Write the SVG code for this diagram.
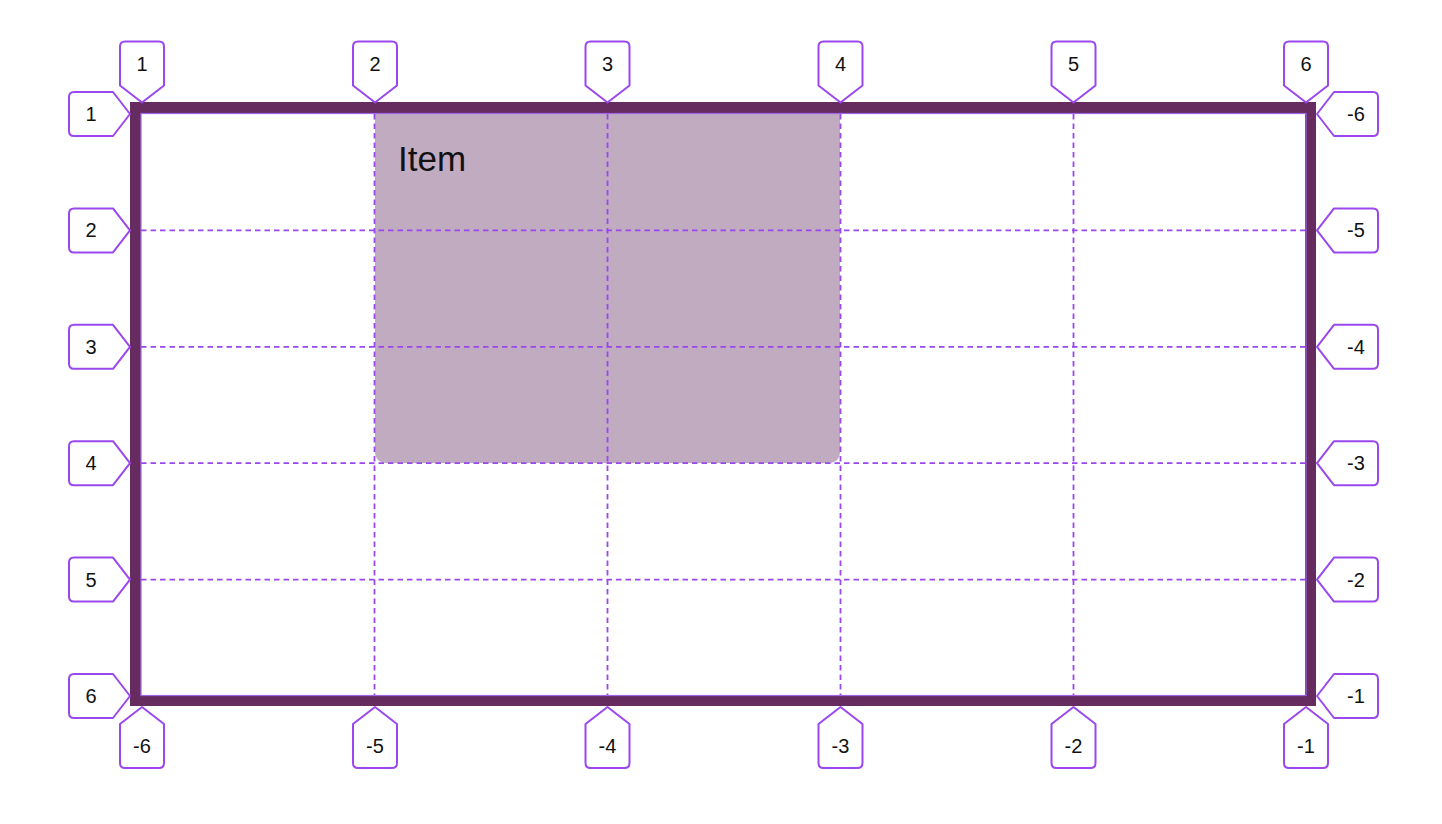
<svg xmlns="http://www.w3.org/2000/svg" xmlns:xlink="http://www.w3.org/1999/xlink" width="1442" height="824" viewBox="0 0 1442 824">
<style>
.grid{stroke:#9a48ee;stroke-width:1.8;stroke-dasharray:5.5 4;fill:none}
.lbl{fill:#ffffff;stroke:#9a48ee;stroke-width:2;stroke-linejoin:round}
.lt{font-family:"Liberation Sans",Arial,sans-serif;font-size:20px;fill:#111111;text-anchor:middle}
</style>
<defs>
<path id="tag" d="M0,0 L-22,-17 L-22,-56 Q-22,-61 -17,-61 L17,-61 Q22,-61 22,-56 L22,-17 Z"/>
</defs>
<rect width="1442" height="824" fill="#ffffff"/>
<g id="item">
<path d="M375,114 L840,114 L840,451 Q840,463 828,463 L387,463 Q375,463 375,451 Z" fill="#c1abc1"/>
<text x="398" y="171" font-family="Liberation Sans,Arial,sans-serif" font-size="35" fill="#111111">Item</text>
</g>
<g id="connectors">
<line class="grid" x1="141" y1="230.4" x2="1306" y2="230.4"/>
<line class="grid" x1="141" y1="346.8" x2="1306" y2="346.8"/>
<line class="grid" x1="141" y1="463.2" x2="1306" y2="463.2"/>
<line class="grid" x1="141" y1="579.6" x2="1306" y2="579.6"/>
<line class="grid" x1="374.5" y1="114" x2="374.5" y2="696"/>
<line class="grid" x1="607.5" y1="114" x2="607.5" y2="696"/>
<line class="grid" x1="840.5" y1="114" x2="840.5" y2="696"/>
<line class="grid" x1="1073.5" y1="114" x2="1073.5" y2="696"/>
</g>
<g id="container">
<rect x="135.5" y="107.5" width="1175" height="593" fill="none" stroke="#662b5f" stroke-width="11"/>
<rect x="141" y="113.5" width="1165" height="582" fill="none" stroke="#a066e8" stroke-width="1.2"/>
</g>
<g id="top-labels">
<g id="top-1"><use href="#tag" class="lbl" transform="translate(142,102.5)"/><text class="lt" x="142" y="71">1</text></g>
<g id="top-2"><use href="#tag" class="lbl" transform="translate(375,102.5)"/><text class="lt" x="375" y="71">2</text></g>
<g id="top-3"><use href="#tag" class="lbl" transform="translate(607.5,102.5)"/><text class="lt" x="607.5" y="71">3</text></g>
<g id="top-4"><use href="#tag" class="lbl" transform="translate(840.5,102.5)"/><text class="lt" x="840.5" y="71">4</text></g>
<g id="top-5"><use href="#tag" class="lbl" transform="translate(1073.5,102.5)"/><text class="lt" x="1073.5" y="71">5</text></g>
<g id="top-6"><use href="#tag" class="lbl" transform="translate(1306,102.5)"/><text class="lt" x="1306" y="71">6</text></g>
</g>
<g id="bottom-labels">
<g id="bottom-m6"><use href="#tag" class="lbl" transform="translate(142,707) rotate(180)"/><text class="lt" x="142" y="753">-6</text></g>
<g id="bottom-m5"><use href="#tag" class="lbl" transform="translate(375,707) rotate(180)"/><text class="lt" x="375" y="753">-5</text></g>
<g id="bottom-m4"><use href="#tag" class="lbl" transform="translate(607.5,707) rotate(180)"/><text class="lt" x="607.5" y="753">-4</text></g>
<g id="bottom-m3"><use href="#tag" class="lbl" transform="translate(840.5,707) rotate(180)"/><text class="lt" x="840.5" y="753">-3</text></g>
<g id="bottom-m2"><use href="#tag" class="lbl" transform="translate(1073.5,707) rotate(180)"/><text class="lt" x="1073.5" y="753">-2</text></g>
<g id="bottom-m1"><use href="#tag" class="lbl" transform="translate(1306,707) rotate(180)"/><text class="lt" x="1306" y="753">-1</text></g>
</g>
<g id="left-labels">
<g id="left-1"><use href="#tag" class="lbl" transform="translate(130,114) rotate(-90)"/><text class="lt" x="91" y="121">1</text></g>
<g id="left-2"><use href="#tag" class="lbl" transform="translate(130,230.4) rotate(-90)"/><text class="lt" x="91" y="237.4">2</text></g>
<g id="left-3"><use href="#tag" class="lbl" transform="translate(130,346.8) rotate(-90)"/><text class="lt" x="91" y="353.8">3</text></g>
<g id="left-4"><use href="#tag" class="lbl" transform="translate(130,463.2) rotate(-90)"/><text class="lt" x="91" y="470.2">4</text></g>
<g id="left-5"><use href="#tag" class="lbl" transform="translate(130,579.6) rotate(-90)"/><text class="lt" x="91" y="586.6">5</text></g>
<g id="left-6"><use href="#tag" class="lbl" transform="translate(130,696) rotate(-90)"/><text class="lt" x="91" y="703">6</text></g>
</g>
<g id="right-labels">
<g id="right-m6"><use href="#tag" class="lbl" transform="translate(1317,114) rotate(90)"/><text class="lt" x="1356" y="121">-6</text></g>
<g id="right-m5"><use href="#tag" class="lbl" transform="translate(1317,230.4) rotate(90)"/><text class="lt" x="1356" y="237.4">-5</text></g>
<g id="right-m4"><use href="#tag" class="lbl" transform="translate(1317,346.8) rotate(90)"/><text class="lt" x="1356" y="353.8">-4</text></g>
<g id="right-m3"><use href="#tag" class="lbl" transform="translate(1317,463.2) rotate(90)"/><text class="lt" x="1356" y="470.2">-3</text></g>
<g id="right-m2"><use href="#tag" class="lbl" transform="translate(1317,579.6) rotate(90)"/><text class="lt" x="1356" y="586.6">-2</text></g>
<g id="right-m1"><use href="#tag" class="lbl" transform="translate(1317,696) rotate(90)"/><text class="lt" x="1356" y="703">-1</text></g>
</g>
</svg>
